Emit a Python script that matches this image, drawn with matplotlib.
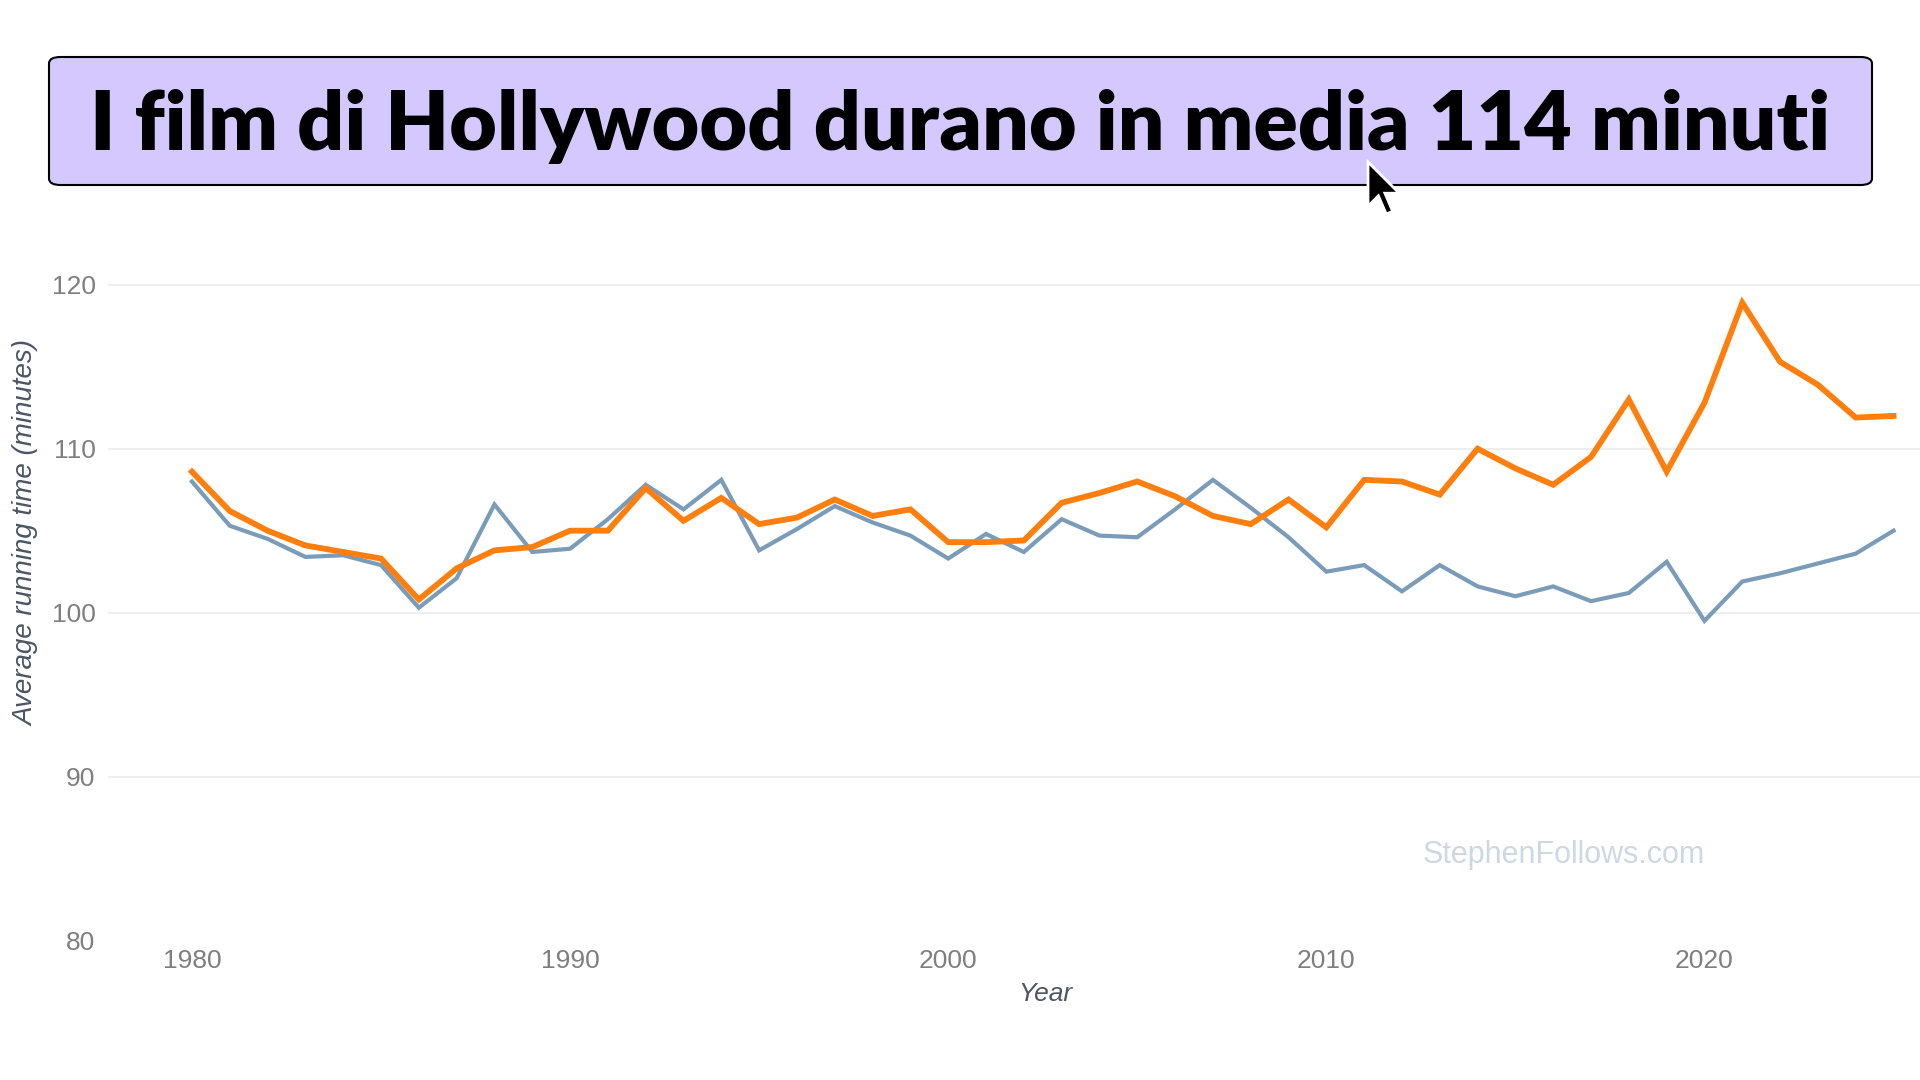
import matplotlib
matplotlib.use("Agg")
import matplotlib.pyplot as plt
from matplotlib.patches import FancyBboxPatch, Polygon

years = list(range(1980, 2026))

# orange line (upper series)
orange_vals = [108.6, 106.2, 105.0, 104.1, 103.7, 103.3, 100.8, 102.7, 103.8, 104.0,
               105.0, 105.0, 107.6, 105.6, 107.0, 105.4, 105.8, 106.9, 105.9, 106.3,
               104.3, 104.3, 104.4, 106.7, 107.3, 108.0, 107.1, 105.9, 105.4, 106.9,
               105.2, 108.1, 108.0, 107.2, 110.0, 108.8, 107.8, 109.5, 113.0, 108.6,
               112.8, 118.9, 115.3, 113.9, 111.9, 112.0]

# blue-grey line
blue_vals = [108.0, 105.3, 104.5, 103.4, 103.5, 102.9, 100.3, 102.1, 106.6, 103.7,
             103.9, 105.7, 107.8, 106.3, 108.1, 103.8, 105.1, 106.5, 105.5, 104.7,
             103.3, 104.8, 103.7, 105.7, 104.7, 104.6, 106.3, 108.1, 106.4, 104.6,
             102.5, 102.9, 101.3, 102.9, 101.6, 101.0, 101.6, 100.7, 101.2, 103.1,
             99.5, 101.9, 102.4, 103.0, 103.6, 105.0]

y_ticks = [80, 90, 100, 110, 120]
x_ticks = [1980, 1990, 2000, 2010, 2020]

title = "I film di Hollywood durano in media 114 minuti"
W, H = 1920, 1080

fig = plt.figure(figsize=(19.2, 10.8), dpi=100)
fig.patch.set_facecolor("white")

# plot area (pixel positions)
left, right = 108 / W, 1.0
bottom = 1 - 940.5 / H
top = 1 - 252 / H
ax = fig.add_axes([left, bottom, right - left, top - bottom])
ax.set_xlim(1977.78, 2025.7)
ax.set_ylim(80, 122)

ax.plot(years, blue_vals, color="#7a9cb8", lw=3.0, solid_joinstyle="miter", zorder=3)
ax.plot(years, orange_vals, color="#ff7f0e", lw=4.2, solid_joinstyle="miter", zorder=4)

for s in ax.spines.values():
    s.set_visible(False)
ax.set_yticks(y_ticks)
ax.set_xticks(x_ticks)
ax.yaxis.grid(True, color="#ebebeb", lw=1.2)
ax.get_ygridlines()[0].set_visible(False)
ax.set_axisbelow(True)
ax.tick_params(length=0, labelsize=19, labelcolor="#7f7f7f", pad=6)
ax.tick_params(axis="y", pad=9)
for lab in ax.get_xticklabels() + ax.get_yticklabels():
    lab.set_fontfamily("Liberation Sans")

ax.set_xlabel("Year", fontsize=19, style="italic", color="#4b5563",
              family="Liberation Sans")
ax.xaxis.set_label_coords((1045 - 108) / 1812, -(994 - 940.5) / (940.5 - 252))
ax.xaxis.label.set_va("center")
fig.text(26 / W, 1 - 533 / H, "Average running time (minutes)", rotation=90,
         ha="center", va="center", fontsize=20, style="italic", color="#4b5563",
         family="Liberation Sans")

fig.text(1564 / W, 1 - 855 / H, "StephenFollows.com", ha="center", va="center",
         fontsize=22, color="#cdd8e4", family="Liberation Sans")

# title box
box = FancyBboxPatch((49 / W, 1 - 185 / H), (1872 - 49) / W, 128 / H,
                     boxstyle="round,pad=0,rounding_size=0.006",
                     transform=fig.transFigure, facecolor="#d4c8ff",
                     edgecolor="black", lw=1.5, zorder=5)
fig.patches.append(box)
t = fig.text(960 / W, 1 - 127 / H, title, ha="center", va="center",
             fontsize=60, fontweight="heavy", family="Lato", color="black", zorder=6)
fig.canvas.draw()
w = t.get_window_extent().width
t.set_fontsize(60 * 1741 / w)

# mouse pointer over the title box
tip_x, tip_y, sc = 1368, 162, 1.3
shape = [(0, 0), (0, 34), (8, 26), (14, 40), (19, 38), (13, 24), (24, 24)]
pts = [((tip_x + px * sc) / W, 1 - (tip_y + py * sc) / H) for px, py in shape]
fig.patches.append(Polygon(pts, closed=True, transform=fig.transFigure,
                           facecolor="black", edgecolor="white", lw=2, zorder=7))

fig.savefig("out.png", dpi=100)
